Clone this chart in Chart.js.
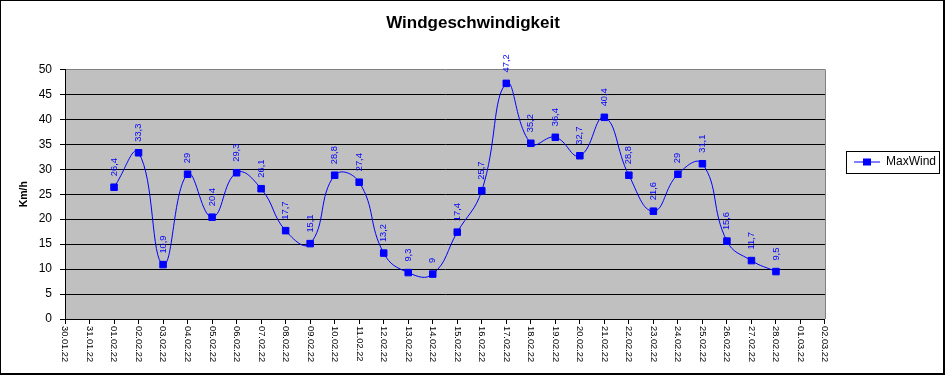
<!DOCTYPE html>
<html>
<head>
<meta charset="utf-8">
<script src="https://cdn.jsdelivr.net/npm/chart.js@4/dist/chart.umd.min.js"></script>
<style>
  body { margin: 0; background: #fff; }
  canvas { display: block; }
</style>
</head>
<body>
<canvas id="chart1" width="946" height="375"></canvas>
<script>
  // Tage (Kategorien) und Werte
  const days = ['30.01.22', '31.01.22', '01.02.22', '02.02.22', '03.02.22', '04.02.22', '05.02.22', '06.02.22',
    '07.02.22', '08.02.22', '09.02.22', '10.02.22', '11.02.22', '12.02.22', '13.02.22', '14.02.22',
    '15.02.22', '16.02.22', '17.02.22', '18.02.22', '19.02.22', '20.02.22', '21.02.22', '22.02.22',
    '23.02.22', '24.02.22', '25.02.22', '26.02.22', '27.02.22', '28.02.22', '01.03.22', '02.03.22'];
  const maxWind = [null, null, 26.4, 33.3, 10.9, 29, 20.4, 29.3, 26.1, 17.7, 15.1, 28.8, 27.4, 13.2, 9.3, 9,
    17.4, 25.7, 47.2, 35.2, 36.4, 32.7, 40.4, 28.8, 21.6, 29, 31.1, 15.6, 11.7, 9.5, null, null];
  const yMin = 0, yMax = 50, yStep = 5;

  const FONT = 'Arial, "Liberation Sans", sans-serif';
  const BLUE = '#0000ff';

  // kleines Symbol fuer die Legende: Linie mit Quadrat
  const legendIcon = document.createElement('canvas');
  legendIcon.width = 26; legendIcon.height = 9;
  const ic = legendIcon.getContext('2d');
  ic.fillStyle = BLUE;
  ic.fillRect(0, 4, 26, 1);
  ic.fillRect(9, 1, 8, 7);

  const plotStyle = {
    id: 'plotStyle',
    beforeDraw(chart) {
      const {ctx, chartArea: a} = chart;
      ctx.save();
      ctx.fillStyle = '#c0c0c0';
      ctx.fillRect(a.left, a.top, a.right - a.left, a.bottom - a.top);
      ctx.restore();
    },
    afterDraw(chart) {
      const {ctx, chartArea: a, scales} = chart;
      ctx.save();
      // rechter Rand der Zeichenflaeche
      ctx.strokeStyle = '#808080';
      ctx.lineWidth = 1;
      ctx.beginPath();
      ctx.moveTo(a.right + 0.5, a.top);
      ctx.lineTo(a.right + 0.5, a.bottom);
      ctx.stroke();

      // x-Beschriftung, um 90 Grad gedreht
      const xs = scales.x;
      ctx.fillStyle = '#000';
      ctx.font = '9.3px ' + FONT;
      ctx.textAlign = 'left';
      ctx.textBaseline = 'middle';
      xs.ticks.forEach((t, i) => {
        const x = xs.getPixelForTick(i);
        ctx.save();
        ctx.translate(x, a.bottom + 7);
        ctx.rotate(Math.PI / 2);
        ctx.fillText(days[i], 0, 0);
        ctx.restore();
      });

      // Rahmen um die Legende
      const lg = chart.legend;
      const cy = (lg.top + lg.bottom) / 2;
      ctx.strokeStyle = '#000';
      ctx.strokeRect(lg.left + 21.5, Math.round(cy) - 10.5, 93, 22);

      // Rahmen um das ganze Diagramm
      ctx.lineWidth = 2;
      ctx.strokeRect(0, 0, 944, 374);
      ctx.restore();
    }
  };

  const valueLabels = {
    id: 'valueLabels',
    afterDatasetsDraw(chart) {
      const {ctx} = chart;
      const meta = chart.getDatasetMeta(0);
      ctx.save();
      ctx.fillStyle = BLUE;
      ctx.font = '9.3px ' + FONT;
      ctx.textAlign = 'left';
      ctx.textBaseline = 'middle';
      meta.data.forEach((pt, i) => {
        const v = maxWind[i];
        if (v === null) return;
        ctx.save();
        ctx.translate(pt.x, pt.y - 11);
        ctx.rotate(-Math.PI / 2);
        ctx.fillText(String(v).replace('.', ','), 0, 0);
        ctx.restore();
      });
      ctx.restore();
    }
  };

  const ctx = document.getElementById('chart1').getContext('2d');

  const chart1 = new Chart(ctx, {
    type: 'line',
    data: {
      labels: days,
      datasets: [{
        label: 'MaxWind',
        data: maxWind,
        borderColor: BLUE,
        borderWidth: 1,
        backgroundColor: BLUE,
        pointStyle: 'rect',
        pointRadius: 4.6,
        pointBorderWidth: 1,
        pointBackgroundColor: BLUE,
        pointBorderColor: BLUE,
        tension: 0.45,
        fill: false
      }]
    },
    options: {
      responsive: false,
      animation: false,
      layout: {
        padding: { left: 0, right: 0, top: 0, bottom: 51 }
      },
      scales: {
        x: {
          offset: false,
          grid: { drawOnChartArea: false, drawTicks: true, tickLength: 5, color: '#000' },
          border: { color: '#000' },
          ticks: { display: false }
        },
        y: {
          min: yMin,
          max: yMax,
          ticks: { stepSize: yStep, color: '#000', font: { family: FONT, size: 12 }, padding: 8 },
          grid: {
            color: c => (c.tick && c.tick.value === yMax ? '#808080' : '#000'),
            tickColor: '#000',
            tickLength: 5
          },
          border: { color: '#000' },
          title: {
            display: true,
            text: 'Km/h',
            color: '#000',
            font: { family: FONT, size: 10.5, weight: 'bold' },
            padding: { top: 18, bottom: 0 }
          },
          afterFit(scale) { scale.width = 65; }
        }
      },
      plugins: {
        title: {
          display: true,
          text: 'Windgeschwindigkeit',
          color: '#000',
          font: { family: FONT, size: 17, weight: 'bold' },
          padding: { top: 13, bottom: 36 }
        },
        legend: {
          position: 'right',
          labels: {
            usePointStyle: true,
            pointStyle: legendIcon,
            pointStyleWidth: 26,
            padding: 29,
            color: '#000',
            font: { family: FONT, size: 12 }
          }
        },
        tooltip: { enabled: false }
      }
    },
    plugins: [plotStyle, valueLabels]
  });
</script>
</body>
</html>
